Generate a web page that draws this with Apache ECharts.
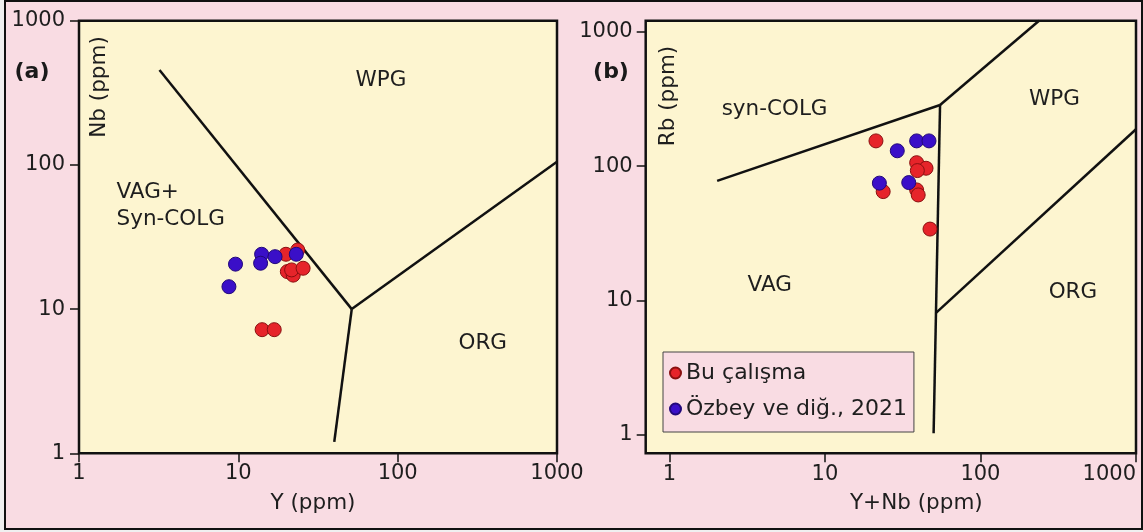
<!DOCTYPE html>
<html><head><meta charset="utf-8">
<script src="https://cdn.jsdelivr.net/npm/echarts@6/dist/echarts.min.js"></script>
<style>
html,body{margin:0;padding:0;background:#f0f0f0;}
#frame{position:absolute;left:4px;top:0;width:1139px;height:530px;box-sizing:border-box;border:2.5px solid #111;background:#f9dce3;}
#chart{position:absolute;left:0;top:0;width:1143px;height:532px;}
</style></head><body>
<div id="frame"></div><div id="chart"></div>
<script>
// ---- data ----
const tickValues = [1, 10, 100, 1000];
const seriesNames = ['Bu çalışma', 'Özbey ve diğ., 2021'];
// Panel (a): [Y, Nb] in ppm
const aBuCalisma = [[19.9,24.0],[23.6,25.7],[20.3,18.2],[22.1,17.2],[21.6,18.7],[25.5,19.2],[14.1,7.2],[16.8,7.2]];
const aOzbey = [[9.6,20.5],[8.73,14.3],[14.0,24.0],[13.8,20.8],[17.0,23.1],[23.1,24.0]];
// Panel (b): [Y+Nb, Rb] in ppm
const bBuCalisma = [[21.3,154],[38.9,106],[44.7,96.4],[39.3,92.6],[23.7,64.6],[38.9,66.5],[39.8,61],[47.4,34]];
const bOzbey = [[29.2,130],[38.9,154],[46.7,154],[22.4,74.7],[34.6,75.4]];
// Discrimination boundaries
const aBoundaries = [
  [[3.2,455],[51.5,10]],
  [[51.5,10],[1000,105]],
  [[51.5,10],[40,1.2]]
];
const bBoundaries = [
  [[2.03,77.6],[55,285]],
  [[55,285],[238,1207]],
  [[55,285],[50,1.03]],
  [[51.8,8.1],[1000,188]]
];
const aRegions = [
  {name:'WPG', value:[78.5,388]},
  {name:'VAG+\nSyn-COLG', value:[1.72,52.3], left:true},
  {name:'ORG', value:[342,5.82]}
];
const bRegions = [
  {name:'syn-COLG', value:[4.75,262]},
  {name:'WPG', value:[299,316]},
  {name:'VAG', value:[4.42,12.9]},
  {name:'ORG', value:[393,11.5]}
];
const aExtent = {x:[1,1000], y:[1,1000]};
const bExtent = {x:[0.705,1000], y:[0.73,1207]};

// ---- styles ----
const FONT = 'DejaVu Sans';
const TXT = '#1e1e1e';
const RED = {color:'#e6242a', borderColor:'#8a1010', borderWidth:1, opacity:1};
const BLUE = {color:'#3a0fc8', borderColor:'#22087a', borderWidth:1, opacity:1};
const fmt = v => String(Math.round(v));

function xAxis(idx, ext, name, margin, pad, alignMax){
  return {type:'log', logBase:10, gridIndex:idx, min:ext[0], max:ext[1],
    name:name, nameLocation:'middle', nameGap:39,
    nameTextStyle:{fontFamily:FONT, fontSize:21.5, color:TXT, padding:pad},
    axisLine:{show:false}, splitLine:{show:false}, minorTick:{show:false},
    axisTick:{show:true, inside:false, length:9, customValues:tickValues, lineStyle:{color:'#111', width:1.5}},
    axisLabel:{show:true, margin:margin, customValues:tickValues, formatter:fmt, alignMaxLabel:alignMax,
      fontFamily:FONT, fontSize:21, color:TXT}};
}
function yAxis(idx, ext, margin){
  return {type:'log', logBase:10, gridIndex:idx, min:ext[0], max:ext[1],
    axisLine:{show:false}, splitLine:{show:false}, minorTick:{show:false},
    axisTick:{show:true, inside:false, length:9, customValues:tickValues, lineStyle:{color:'#111', width:1.5}},
    axisLabel:{show:true, margin:margin, customValues:tickValues, formatter:fmt, fontFamily:FONT, fontSize:21, color:TXT}};
}
function lineSeries(idx, segs){
  return segs.map(s => ({type:'line', xAxisIndex:idx, yAxisIndex:idx, data:s, symbol:'none',
    silent:true, clip:true, z:3, lineStyle:{color:'#111', width:2.5}}));
}
function scatter(idx, name, data, style){
  return {type:'scatter', name:name, xAxisIndex:idx, yAxisIndex:idx, data:data,
    symbol:'circle', symbolSize:14, itemStyle:style, z:5};
}
function regionSeries(idx, regs){
  return {type:'scatter', xAxisIndex:idx, yAxisIndex:idx, silent:true, symbolSize:1,
    itemStyle:{color:'rgba(0,0,0,0)', opacity:1}, z:4,
    label:{show:true, position:'inside', formatter:'{b}', fontFamily:FONT, fontSize:21.5, color:TXT, lineHeight:27, opacity:1},
    data: regs.map(r => ({name:r.name, value:r.value, label: r.left ? {align:'left'} : {}}))};
}

const chart = echarts.init(document.getElementById('chart'), null, {renderer:'canvas'});
chart.setOption({
  animation:false,
  backgroundColor:'transparent',
  grid:[
    {left:79, top:20.7, width:478, height:432.6, show:true, backgroundColor:'#fdf5d0', borderColor:'#111', borderWidth:2.5, containLabel:false, outerBoundsMode:'none'},
    {left:645.7, top:20.7, width:490.3, height:432.6, show:true, backgroundColor:'#fdf5d0', borderColor:'#111', borderWidth:2.5, containLabel:false, outerBoundsMode:'none'}
  ],
  xAxis:[ xAxis(0, aExtent.x, 'Y (ppm)', 10, [0,10,0,0], null), xAxis(1, bExtent.x, 'Y+Nb (ppm)', 11, [0,0,0,51], 'right') ],
  yAxis:[ yAxis(0, aExtent.y, 14), yAxis(1, bExtent.y, 13) ],
  legend:{data:seriesNames, orient:'vertical', left:663, top:352, padding:[8,7,10,6],
    itemWidth:11, itemHeight:11, itemGap:10, icon:'circle',
    backgroundColor:'#f9dce3', borderColor:'#444', borderWidth:1, borderRadius:0,
    selectedMode:false,
    textStyle:{fontFamily:FONT, fontSize:22, color:TXT, lineHeight:26}},
  graphic:[
    {type:'text', x:32, y:72, style:{text:'(a)', font:'bold 22px "DejaVu Sans"', fill:'#1a1a1a', align:'center', verticalAlign:'middle', textAlign:'center', textVerticalAlign:'middle'}},
    {type:'text', x:611, y:72, style:{text:'(b)', font:'bold 22px "DejaVu Sans"', fill:'#1a1a1a', align:'center', verticalAlign:'middle', textAlign:'center', textVerticalAlign:'middle'}},
    {type:'text', x:99, y:87, rotation:Math.PI/2, style:{text:'Nb (ppm)', font:'21.5px "DejaVu Sans"', fill:TXT, align:'center', verticalAlign:'middle', textAlign:'center', textVerticalAlign:'middle'}},
    {type:'text', x:668.5, y:96, rotation:Math.PI/2, style:{text:'Rb (ppm)', font:'21.5px "DejaVu Sans"', fill:TXT, align:'center', verticalAlign:'middle', textAlign:'center', textVerticalAlign:'middle'}}
  ],
  series:[
    ...lineSeries(0, aBoundaries),
    ...lineSeries(1, bBoundaries),
    regionSeries(0, aRegions),
    regionSeries(1, bRegions),
    scatter(0, seriesNames[0], aBuCalisma, RED),
    scatter(0, seriesNames[1], aOzbey, BLUE),
    scatter(1, seriesNames[0], bBuCalisma, RED),
    scatter(1, seriesNames[1], bOzbey, BLUE)
  ]
});
</script></body></html>
